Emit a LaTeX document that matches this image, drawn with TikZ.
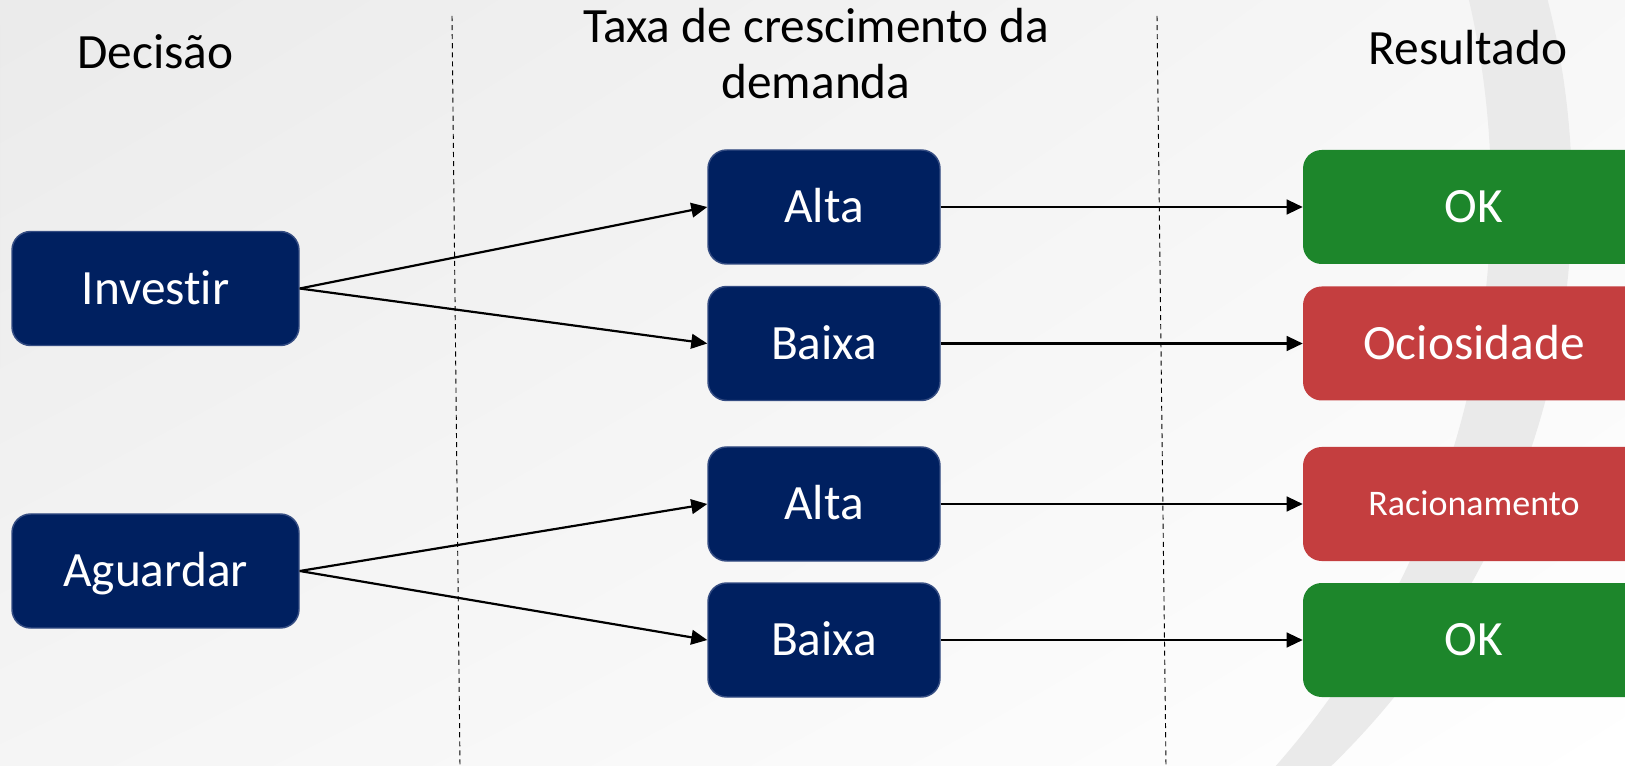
\documentclass[tikz,border=0pt]{standalone}
\usepackage{fontspec}
\setmainfont{Carlito}[Ligatures=NoCommon]
\usetikzlibrary{arrows.meta,shadings}
\definecolor{navy}{RGB}{0,32,96}
\definecolor{navyedge}{RGB}{52,76,130}
\definecolor{okgreen}{RGB}{29,134,43}
\definecolor{badred}{RGB}{196,62,63}
\definecolor{ring}{RGB}{234,234,234}
\begin{document}
\begin{tikzpicture}[x=0.75pt,y=-0.75pt,
  basebox/.style={rectangle, rounded corners=14pt, inner sep=0pt,
    minimum height=85.5pt, text=white, font=\fontsize{37}{44}\selectfont,
    text height=23.8pt, text depth=0pt},
  decbox/.style={basebox, fill=navy, draw=navyedge, line width=1.1pt, minimum width=215.25pt},
  midbox/.style={basebox, fill=navy, draw=navyedge, line width=1.1pt, minimum width=174pt},
  goodbox/.style={basebox, fill=okgreen, minimum width=256.5pt},
  badbox/.style={basebox, fill=badred, minimum width=256.5pt},
  head/.style={font=\fontsize{37}{44}\selectfont, text=black, inner sep=0pt},
  conn/.style={line width=1.65pt, -{Triangle[length=12pt,width=11pt]}},
  sep/.style={line width=0.7pt, dash pattern=on 3.8pt off 3pt}]
\useasboundingbox (0,0) rectangle (1625,766);
\shade[upper left=black!8, upper right=black!3, lower left=black!4, lower right=white] (0,0) rectangle (1625,766);
\begin{scope}
  \clip (0,0) rectangle (1625,766);
  \clip (777,196) circle [radius=795];
  \fill[ring, even odd rule] (0,0) rectangle (1625,766) (626,195) circle [radius=865];
\end{scope}
% separators
\coordinate (d1t) at (452,16); \coordinate (d1b) at (460,766);
\coordinate (d2t) at (1157,16); \coordinate (d2b) at (1166,766);
\draw[sep] (d1t) -- (d1b);
\draw[sep] (d2t) -- (d2b);
% headers
\node[head, anchor=base] (hdec) at (155.5,69) {Decisão};
\node[head, anchor=base] (htaxa1) at (816,43) {Taxa de crescimento da};
\node[head, anchor=base] (htaxa2) at (816,99) {demanda};
\node[head, anchor=base] (hres) at (1468,65) {Resultado};
% boxes
\node[decbox] (inv) at (155.5,288.5) {Investir};
\node[decbox] (agu) at (155.5,571) {Aguardar};
\node[midbox] (alta1) at (824,207) {Alta};
\node[midbox] (baixa1) at (824,343.5) {Baixa};
\node[midbox] (alta2) at (824,504) {Alta};
\node[midbox] (baixa2) at (824,640) {Baixa};
\node[goodbox] (ok1) at (1474,207) {OK};
\node[badbox] (ocio) at (1474,343.5) {Ociosidade};
\node[badbox, font=\fontsize{27}{32}\selectfont, text height=17.3pt] (rac) at (1474,504) {Racionamento};
\node[goodbox] (ok2) at (1474,640) {OK};
% connectors
\draw[conn] (inv.east) -- (alta1.west);
\draw[conn] (inv.east) -- (baixa1.west);
\draw[conn] (agu.east) -- (alta2.west);
\draw[conn] (agu.east) -- (baixa2.west);
\draw[conn] (alta1.east) -- (ok1.west);
\draw[conn] (baixa1.east) -- (ocio.west);
\draw[conn] (alta2.east) -- (rac.west);
\draw[conn] (baixa2.east) -- (ok2.west);
\end{tikzpicture}
\end{document}
